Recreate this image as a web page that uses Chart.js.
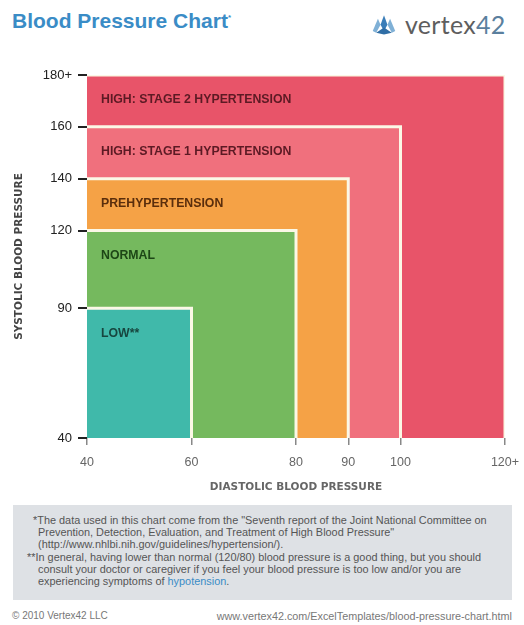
<!DOCTYPE html>
<html>
<head>
<meta charset="utf-8">
<script src="https://cdn.jsdelivr.net/npm/chart.js@4.4.1/dist/chart.umd.min.js"></script>
<style>
  body { margin: 0; background: #fff; font-family: "Liberation Sans", Arial, sans-serif; }
  #page { position: relative; width: 524px; height: 625px; overflow: hidden; }
  #title { position: absolute; left: 12px; top: 9px; font-size: 21px; font-weight: bold; color: #3a8cc6; line-height: 24px; }
  #title sup { font-size: 8px; vertical-align: top; position: relative; top: -3px; }
  #logo { position: absolute; left: 371px; top: 9px; height: 30px; display: flex; align-items: center; }
  #logo span { font-family: Lato, sans-serif; font-size: 25px; color: #5e5e5e; letter-spacing: 0.3px; margin-left: 8px; }
  #logo span b { font-weight: normal; color: #5a7f9e; }
  #chartBox { position: absolute; left: 0; top: 55px; width: 524px; height: 445px; }
  #notes { position: absolute; left: 13px; top: 505px; width: 499px; height: 95px; background: #dee1e5;
           font-size: 10.9px; line-height: 12.2px; color: #555; box-sizing: border-box; padding: 9px 0 0 20px;
           white-space: nowrap; }
  #notes p { margin: 0; padding-left: 5px; }
  #notes p.two { padding-left: 5px; text-indent: -11px; }
  #notes p.one { text-indent: -5px; }
  #notes a { color: #3a8cc6; text-decoration: none; }
  #foot { position: absolute; left: 12px; right: 12px; top: 610px; font-size: 10px; color: #777; }
  #foot .r { position: absolute; right: 0; top: 0; font-size: 10.8px; }
</style>
</head>
<body>
<div id="page">
  <div id="title">Blood Pressure Chart<sup>*</sup></div>
  <div id="logo">
    <svg width="26" height="22" viewBox="0 0 30 24">
      <polygon points="2,20 8,6 11,13 6,22" fill="#7fb0d6"/>
      <polygon points="11,13 15,2 19,13 15,20" fill="#3a7db8"/>
      <polygon points="19,13 22,6 28,20 24,22" fill="#7fb0d6"/>
      <polygon points="6,22 15,16 24,22 15,24" fill="#2f6ea6"/>
    </svg>
    <span>vertex<b>42</b></span>
  </div>
  <div id="chartBox"><canvas id="bp"></canvas></div>
  <div id="notes">
    <p class="one">*The data used in this chart come from the "Seventh report of the Joint National Committee on<br>Prevention, Detection, Evaluation, and Treatment of High Blood Pressure"<br>(http://www.nhlbi.nih.gov/guidelines/hypertension/).</p>
    <p class="two">**In general, having lower than normal (120/80) blood pressure is a good thing, but you should<br>consult your doctor or caregiver if you feel your blood pressure is too low and/or you are<br>experiencing symptoms of <a>hypotension</a>.</p>
  </div>
  <div id="foot">© 2010 Vertex42 LLC<span class="r">www.vertex42.com/ExcelTemplates/blood-pressure-chart.html</span></div>
</div>

<script>
// zones, smallest first so it is drawn on top
const categories = ['LOW**', 'NORMAL', 'PREHYPERTENSION', 'HIGH: STAGE 1 HYPERTENSION', 'HIGH: STAGE 2 HYPERTENSION'];
const diastolicMax = [60, 80, 90, 100, 120];
const systolicMax = [90, 120, 140, 160, 180];
const zoneColors = ['#40b9aa', '#75b95e', '#f5a246', '#f0707d', '#e85469'];
const labelColors = ['#17463f', '#1d4616', '#5a2e0c', '#5c1a24', '#5c1a24'];

const xTickValues = [40, 60, 80, 90, 100, 120];
const xTickLabels = ['40', '60', '80', '90', '100', '120+'];
const yTickValues = [40, 90, 120, 140, 160, 180];
const yTickLabels = ['40', '90', '120', '140', '160', '180+'];

const baseX = 40;
const baseY = 40;

const datasets = categories.map((name, i) => ({
  label: name,
  data: [
    {x: baseX, y: systolicMax[i]},
    {x: diastolicMax[i], y: systolicMax[i]},
    {x: diastolicMax[i], y: baseY}
  ],
  backgroundColor: zoneColors[i],
  borderColor: '#fbf8e6',
  borderWidth: 3,
  fill: 'start',
  pointRadius: 0,
  tension: 0,
  order: i
}));

const zoneLabels = {
  id: 'zoneLabels',
  afterDatasetsDraw(chart) {
    const {ctx, scales: {x, y}} = chart;
    ctx.save();
    ctx.font = 'bold 12.3px "Liberation Sans", Arial, sans-serif';
    ctx.textBaseline = 'middle';
    ctx.textAlign = 'left';
    categories.forEach((name, i) => {
      ctx.fillStyle = labelColors[i];
      ctx.fillText(name, x.getPixelForValue(baseX) + 14, y.getPixelForValue(systolicMax[i]) + 25);
    });
    ctx.restore();
  }
};

new Chart(document.getElementById('bp'), {
  type: 'line',
  data: { datasets },
  plugins: [zoneLabels],
  options: {
    responsive: true,
    maintainAspectRatio: false,
    animation: false,
    layout: { padding: { left: 0, right: 19, top: 20, bottom: 0 } },
    plugins: {
      legend: { display: false },
      tooltip: { enabled: false }
    },
    scales: {
      x: {
        type: 'linear',
        min: 40,
        max: 120,
        afterBuildTicks: axis => { axis.ticks = xTickValues.map(v => ({value: v})); },
        afterFit: axis => { axis.height = 62; axis.paddingLeft = 0; axis.paddingRight = 0; },
        border: { display: false },
        grid: { drawOnChartArea: false, drawTicks: true, tickLength: 7, color: '#888', lineWidth: 1.5 },
        ticks: {
          autoSkip: false,
          maxRotation: 0,
          padding: 10,
          color: '#666',
          font: { family: '"Liberation Sans", Arial, sans-serif', size: 12.5 },
          callback: (v, i) => xTickLabels[i]
        },
        title: {
          display: true,
          text: 'DIASTOLIC BLOOD PRESSURE',
          color: '#666',
          font: { family: '"DejaVu Sans", sans-serif', size: 10.5, weight: 'bold' },
          padding: { top: 4, bottom: 6 }
        }
      },
      y: {
        type: 'linear',
        min: 40,
        max: 180,
        afterBuildTicks: axis => { axis.ticks = yTickValues.map(v => ({value: v})); },
        afterFit: axis => { axis.width = 87; },
        border: { display: false },
        grid: { drawOnChartArea: false, drawTicks: true, tickLength: 9, color: '#222', lineWidth: 2 },
        ticks: {
          autoSkip: false,
          padding: 6,
          color: '#222',
          font: { family: '"Liberation Sans", Arial, sans-serif', size: 13 },
          callback: (v, i) => yTickLabels[i]
        },
        title: {
          display: true,
          text: 'SYSTOLIC BLOOD PRESSURE',
          color: '#444',
          font: { family: '"DejaVu Sans", sans-serif', size: 10.5, weight: 'bold' },
          padding: { top: 13, bottom: 0 }
        }
      }
    }
  }
});
</script>
</body>
</html>
